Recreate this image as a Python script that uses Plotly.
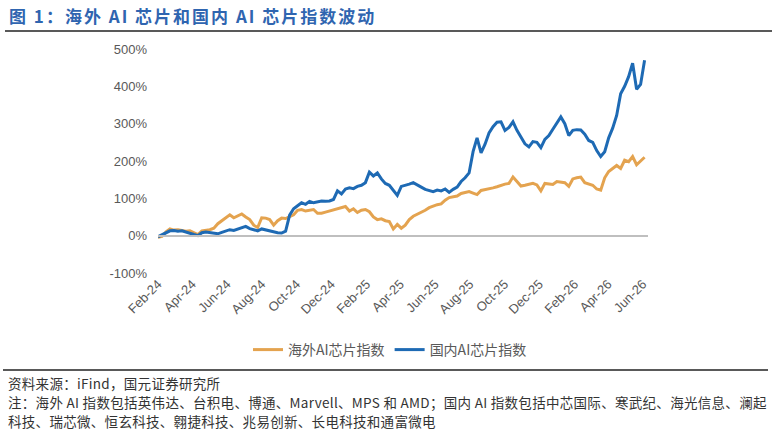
import plotly.graph_objects as go
import pandas as pd

# ---- data (weekly readings from the chart, % change) ----
start_date = "2024-02-01"
n_weeks = 123
overseas_ai = [-4, -2, 10, 18, 15, 16, 14, 12, 13, 8,
               3, 13, 14, 16, 20, 32, 40, 48, 56, 48,
               52, 58, 50, 43, 28, 22, 48, 47, 43, 28,
               40, 47, 46, 52, 56, 68, 70, 66, 68, 70,
               60, 60, 63, 66, 67, 70, 74, 78, 66, 72,
               62, 68, 70, 64, 50, 43, 45, 40, 38, 18,
               30, 20, 28, 43, 52, 57, 62, 68, 75, 80,
               83, 85, 95, 102, 104, 106, 113, 116, 118, 114,
               110, 121, 123, 124, 128, 131, 135, 138, 140, 157,
               145, 133, 135, 137, 140, 136, 120, 140, 139, 137,
               145, 144, 142, 132, 152, 155, 157, 142, 138, 135,
               125, 122, 155, 172, 180, 188, 180, 202, 198, 212,
               190, 200, 210]
domestic_ai = [-3, 2, 8, 13, 14, 12, 13, 9, 6, 3,
               0, 8, 10, 8, 7, 5, 9, 12, 16, 14,
               18, 21, 25, 19, 17, 13, 18, 15, 12, 10,
               8, 7, 12, 55, 72, 80, 88, 84, 92, 88,
               90, 93, 92, 93, 97, 120, 112, 125, 128, 126,
               132, 135, 142, 170, 160, 168, 152, 140, 135, 120,
               108, 132, 134, 138, 142, 135, 130, 124, 121, 118,
               122, 120, 125, 116, 124, 130, 145, 155, 168, 225,
               262, 222, 245, 275, 292, 304, 305, 282, 290, 305,
               282, 262, 246, 238, 252, 250, 236, 258, 268, 285,
               302, 318, 300, 268, 282, 284, 283, 272, 255, 250,
               228, 212, 225, 262, 288, 322, 380, 400, 426, 462,
               392, 405, 470]
tick_dates = ["2024-02-01", "2024-04-01", "2024-06-01", "2024-08-01", "2024-10-01",
              "2024-12-01", "2025-02-01", "2025-04-01", "2025-06-01", "2025-08-01",
              "2025-10-01", "2025-12-01", "2026-02-01", "2026-04-01", "2026-06-01"]
tick_labels = ["Feb-24", "Apr-24", "Jun-24", "Aug-24", "Oct-24", "Dec-24", "Feb-25",
               "Apr-25", "Jun-25", "Aug-25", "Oct-25", "Dec-25", "Feb-26", "Apr-26", "Jun-26"]
y_ticks = [-100, 0, 100, 200, 300, 400, 500]
y_labels = ["-100%", "0%", "100%", "200%", "300%", "400%", "500%"]

dates = pd.date_range(start_date, periods=n_weeks, freq="7D")

# ---- layout geometry (pixels) ----
W, H = 776, 434
L, R, T, B = 158, 648, 49, 273


def px(x):
    return (x - L) / (R - L)


def py(y):
    return (B - y) / (B - T)


ORANGE = "#E4A34F"
BLUE = "#1E6AB4"
GRAY = "#595959"

fig = go.Figure()
fig.add_trace(go.Scatter(x=dates, y=overseas_ai, mode="lines", name="海外AI芯片指数",
                         line=dict(color=ORANGE, width=3)))
fig.add_trace(go.Scatter(x=dates, y=domestic_ai, mode="lines", name="国内AI芯片指数",
                         line=dict(color=BLUE, width=3)))
# helper trace so the zero-line axis is drawn
fig.add_trace(go.Scatter(x=[], y=[], xaxis="x2", yaxis="y", showlegend=False,
                         hoverinfo="skip"))

xrange = ["2024-02-01", "2026-06-10"]
fig.update_layout(
    width=W, height=H,
    margin=dict(l=L, r=W - R, t=T, b=H - B),
    paper_bgcolor="white", plot_bgcolor="white",
    font=dict(family="Liberation Sans, Arial, sans-serif", color=GRAY),
    xaxis=dict(range=xrange, tickvals=tick_dates, ticktext=tick_labels, tickangle=-45,
               showgrid=False, zeroline=False, showline=False, ticks="",
               tickfont=dict(size=13, color=GRAY)),
    xaxis2=dict(range=xrange, overlaying="x", anchor="free", position=py(236),
                tickvals=tick_dates, showticklabels=False, showgrid=False, zeroline=False,
                showline=True, linecolor="#BFBFBF", linewidth=1.5,
                ticks="outside", ticklen=5, tickwidth=1, tickcolor="#BFBFBF"),
    yaxis=dict(range=[-100, 500], tickvals=y_ticks, ticktext=y_labels,
               showgrid=False, zeroline=False, showline=False, ticks="",
               ticklabelstandoff=10, tickfont=dict(size=13, color=GRAY)),
    legend=dict(orientation="h", x=px(390), xanchor="center", y=py(350), yanchor="middle",
                font=dict(family="Noto Sans CJK SC", size=14, color=GRAY),
                itemwidth=30, bgcolor="rgba(0,0,0,0)"),
    showlegend=True,
)

title = "图 1：海外 AI 芯片和国内 AI 芯片指数波动"
fig.add_annotation(text=f"<b><span style='letter-spacing:2px'>{title}</span></b>",
                   xref="paper", yref="paper",
                   x=px(7), y=py(15), xanchor="left", yanchor="middle", showarrow=False,
                   font=dict(family="Noto Sans CJK SC", size=17, color="#2F65B0"))
fig.add_shape(type="line", xref="paper", yref="paper", x0=px(5), x1=px(772), y0=py(31), y1=py(31),
              line=dict(color="#222222", width=1.5))
fig.add_shape(type="line", xref="paper", yref="paper", x0=px(3), x1=px(768), y0=py(370), y1=py(370),
              line=dict(color="#222222", width=1.5))

notes = ["资料来源：iFind，国元证券研究所",
         "注：海外 AI 指数包括英伟达、台积电、博通、Marvell、MPS 和 AMD；国内 AI 指数包括中芯国际、寒武纪、海光信息、澜起",
         "科技、瑞芯微、恒玄科技、翱捷科技、兆易创新、长电科技和通富微电"]
for txt, yy in zip(notes, [383, 402, 421]):
    fig.add_annotation(text=f"<span style='letter-spacing:0.3px'>{txt}</span>",
                       xref="paper", yref="paper", x=px(6), y=py(yy),
                       xanchor="left", yanchor="middle", showarrow=False,
                       font=dict(family="Noto Sans CJK SC", size=13.5, color="#333333"))

fig.write_html("out.html")
